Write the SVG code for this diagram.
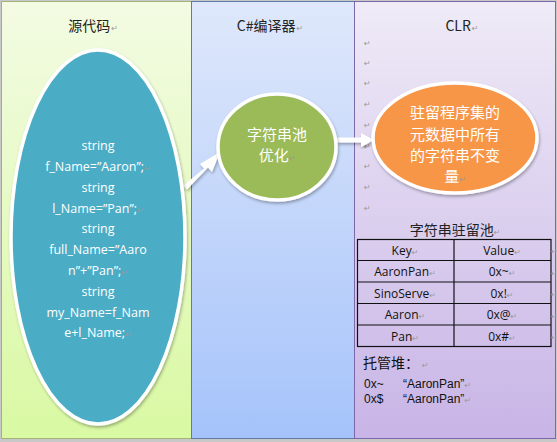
<svg xmlns="http://www.w3.org/2000/svg" width="557" height="442" viewBox="0 0 557 442">
<defs>
<linearGradient id="g1" x1="0" y1="0" x2="0" y2="1"><stop offset="0" stop-color="#F3FBE3"/><stop offset="1" stop-color="#D9F9A3"/></linearGradient>
<linearGradient id="g2" x1="0" y1="0" x2="0" y2="1"><stop offset="0" stop-color="#DFE8FB"/><stop offset="1" stop-color="#A5C3FA"/></linearGradient>
<linearGradient id="g3" x1="0" y1="0" x2="0" y2="1"><stop offset="0" stop-color="#EFEBF7"/><stop offset="1" stop-color="#C8B4E6"/></linearGradient>
<filter id="sh" x="-10%" y="-10%" width="120%" height="120%"><feDropShadow dx="1" dy="2" stdDeviation="1.5" flood-color="#000" flood-opacity="0.3"/></filter>
</defs>
<style>
.hdr{font-family:"Noto Sans CJK SC","Liberation Sans",sans-serif;font-size:14px;fill:#222;text-anchor:middle}
.code{font-family:"Open Sans","Liberation Sans",sans-serif;font-size:12.5px;fill:#fff;text-anchor:middle}
.cjk{font-family:"Noto Sans CJK SC",sans-serif;font-size:15px;fill:#fff;text-anchor:middle}
.cell{font-family:"Open Sans","Liberation Sans",sans-serif;font-size:12px;fill:#111;text-anchor:middle}
.txt{font-family:"Liberation Sans","Noto Sans CJK SC",sans-serif;font-size:12px;fill:#111}
.pm{font-family:"DejaVu Sans",sans-serif;font-size:8px;fill:#999}
.shape{stroke:#fff;stroke-width:3.5;filter:url(#sh)}
.tb{fill:none;stroke:#111;stroke-width:1.2}
</style>
<rect x="0" y="0" width="557" height="442" fill="#C8C8C8"/>
<g id="panel-source">
<rect x="1.5" y="1.5" width="190" height="437" fill="url(#g1)" stroke="#A3B27A" stroke-width="1"/>
<text class="hdr" x="93" y="31">源代码<tspan class="pm" dx="1">↵</tspan></text>
</g>
<g id="panel-compiler">
<rect x="191.5" y="1.5" width="163" height="437" fill="url(#g2)" stroke="#5F7CA6" stroke-width="1"/>
<text class="hdr" x="270" y="31">C#编译器<tspan class="pm" dx="1">↵</tspan></text>
</g>
<g id="panel-clr">
<rect x="354.5" y="1.5" width="201" height="437" fill="url(#g3)" stroke="#7C68A8" stroke-width="1"/>
<text class="hdr" x="462" y="31">CLR<tspan class="pm" dx="1">↵</tspan></text>
<g class="pm">
<text x="364" y="46">↵</text><text x="364" y="66">↵</text><text x="364" y="86">↵</text><text x="364" y="107">↵</text><text x="364" y="128">↵</text><text x="364" y="149">↵</text><text x="364" y="169">↵</text><text x="364" y="190">↵</text><text x="364" y="211">↵</text>
</g>
</g>
<g id="connectors">
<polygon points="183.5,185.5 204,168.5 200,164 220,152 212,172 208,167.5 187,189.5" fill="#fff" filter="url(#sh)"/>
<polygon points="337,137.5 361,137.5 361,133 374,140 361,147 361,142.5 337,142.5" fill="#fff" filter="url(#sh)"/>
</g>
<g id="node-code">
<ellipse class="shape" cx="98" cy="237" rx="87" ry="187" fill="#4BACC6"/>
<text class="code" x="98" y="150">string</text>
<text class="code" x="98" y="171">f_Name=”Aaron”;<tspan class="pm">↵</tspan></text>
<text class="code" x="98" y="192">string</text>
<text class="code" x="98" y="213">l_Name=”Pan”;<tspan class="pm">↵</tspan></text>
<text class="code" x="98" y="233">string</text>
<text class="code" x="98" y="254">full_Name=”Aaro</text>
<text class="code" x="98" y="275">n”+”Pan”;<tspan class="pm">↵</tspan></text>
<text class="code" x="98" y="296">string</text>
<text class="code" x="98" y="317">my_Name=f_Nam</text>
<text class="code" x="98" y="337">e+l_Name;<tspan class="pm">↵</tspan></text>
</g>
<g id="node-optimize">
<ellipse class="shape" cx="277" cy="147" rx="59" ry="53" fill="#9BBB59"/>
<text class="cjk" x="277" y="140">字符串池</text>
<text class="cjk" x="277" y="161">优化<tspan class="pm">↵</tspan></text>
</g>
<g id="node-intern">
<ellipse class="shape" cx="455" cy="138" rx="82" ry="55" fill="#F79646"/>
<text class="cjk" x="455" y="118">驻留程序集的</text>
<text class="cjk" x="455" y="140">元数据中所有</text>
<text class="cjk" x="455" y="161">的字符串不变</text>
<text class="cjk" x="455" y="182">量<tspan class="pm">↵</tspan></text>
</g>
<g id="node-pool">
<text class="hdr" x="455" y="235">字符串驻留池<tspan class="pm">↵</tspan></text>
<rect class="tb" x="357.5" y="239.5" width="193.5" height="107"/>
<line class="tb" x1="454" y1="239.5" x2="454" y2="346.5"/>
<line class="tb" x1="357.5" y1="260.5" x2="551" y2="260.5"/>
<line class="tb" x1="357.5" y1="282" x2="551" y2="282"/>
<line class="tb" x1="357.5" y1="303.5" x2="551" y2="303.5"/>
<line class="tb" x1="357.5" y1="325" x2="551" y2="325"/>
<text class="cell" x="405" y="255">Key<tspan class="pm">↵</tspan></text>
<text class="cell" x="502" y="255">Value<tspan class="pm">↵</tspan></text>
<text class="cell" x="405" y="276">AaronPan<tspan class="pm">↵</tspan></text>
<text class="cell" x="502" y="276">0x~<tspan class="pm">↵</tspan></text>
<text class="cell" x="405" y="298">SinoServe<tspan class="pm">↵</tspan></text>
<text class="cell" x="502" y="298">0x!<tspan class="pm">↵</tspan></text>
<text class="cell" x="405" y="319">Aaron<tspan class="pm">↵</tspan></text>
<text class="cell" x="502" y="319">0x@<tspan class="pm">↵</tspan></text>
<text class="cell" x="405" y="341">Pan<tspan class="pm">↵</tspan></text>
<text class="cell" x="502" y="341">0x#<tspan class="pm">↵</tspan></text>
<g class="pm"><text x="551" y="254">↵</text><text x="551" y="276">↵</text><text x="551" y="297">↵</text><text x="551" y="319">↵</text><text x="551" y="340">↵</text></g>
</g>
<g id="node-heap">
<text class="txt" x="363" y="368" style="font-family:'Noto Sans CJK SC',sans-serif;font-size:14px">托管堆：<tspan class="pm" dx="3">↵</tspan></text>
<text class="txt" x="364" y="387.5">0x~</text>
<text class="txt" x="403" y="387.5">“AaronPan”<tspan class="pm">↵</tspan></text>
<text class="txt" x="364" y="403">0x$</text>
<text class="txt" x="403" y="403">“AaronPan”<tspan class="pm">↵</tspan></text>
</g>
</svg>
